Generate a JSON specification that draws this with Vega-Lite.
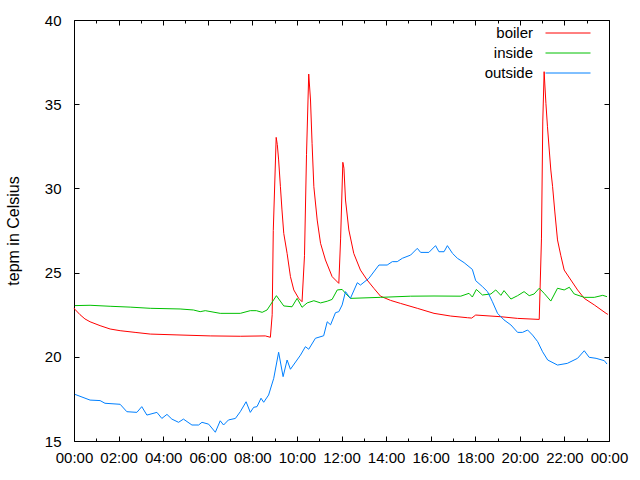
{
  "$schema": "https://vega.github.io/schema/vega-lite/v6.json",
  "width": 535,
  "height": 421,
  "autosize": "none",
  "padding": {"left": 74, "top": 20, "right": 31, "bottom": 39},
  "config": {
    "font": "Liberation Sans",
    "view": {"stroke": "black", "strokeWidth": 1},
    "axis": {"grid": false, "domain": false, "tickColor": "black", "tickWidth": 1, "labelColor": "black", "labelFontSize": 15, "labelFont": "Liberation Sans", "titleFont": "Liberation Sans", "titleFontSize": 16, "titleFontWeight": "normal", "titleColor": "black", "labelFlush": false, "labelOverlap": false}
  },
  "datasets": {
    "temps": [
      {"t": 0.00, "series": "boiler", "v": 22.9},
      {"t": 0.04, "series": "boiler", "v": 22.82},
      {"t": 0.27, "series": "boiler", "v": 22.5},
      {"t": 0.49, "series": "boiler", "v": 22.25},
      {"t": 0.72, "series": "boiler", "v": 22.08},
      {"t": 1.17, "series": "boiler", "v": 21.85},
      {"t": 1.62, "series": "boiler", "v": 21.65},
      {"t": 2.07, "series": "boiler", "v": 21.55},
      {"t": 2.74, "series": "boiler", "v": 21.45},
      {"t": 3.42, "series": "boiler", "v": 21.35},
      {"t": 4.62, "series": "boiler", "v": 21.3},
      {"t": 6.11, "series": "boiler", "v": 21.24},
      {"t": 7.46, "series": "boiler", "v": 21.22},
      {"t": 8.58, "series": "boiler", "v": 21.24},
      {"t": 8.81, "series": "boiler", "v": 21.16},
      {"t": 8.89, "series": "boiler", "v": 22.5},
      {"t": 8.94, "series": "boiler", "v": 27.5},
      {"t": 9.07, "series": "boiler", "v": 33.03},
      {"t": 9.12, "series": "boiler", "v": 32.6},
      {"t": 9.18, "series": "boiler", "v": 31.69},
      {"t": 9.26, "series": "boiler", "v": 30.1},
      {"t": 9.33, "series": "boiler", "v": 28.72},
      {"t": 9.41, "series": "boiler", "v": 27.33},
      {"t": 9.56, "series": "boiler", "v": 26.14},
      {"t": 9.71, "series": "boiler", "v": 24.76},
      {"t": 9.86, "series": "boiler", "v": 23.97},
      {"t": 10.08, "series": "boiler", "v": 23.47},
      {"t": 10.23, "series": "boiler", "v": 23.27},
      {"t": 10.34, "series": "boiler", "v": 26},
      {"t": 10.43, "series": "boiler", "v": 32},
      {"t": 10.53, "series": "boiler", "v": 36.79},
      {"t": 10.61, "series": "boiler", "v": 35.25},
      {"t": 10.68, "series": "boiler", "v": 32.68},
      {"t": 10.76, "series": "boiler", "v": 30.1},
      {"t": 10.91, "series": "boiler", "v": 28.12},
      {"t": 11.06, "series": "boiler", "v": 26.74},
      {"t": 11.28, "series": "boiler", "v": 25.75},
      {"t": 11.58, "series": "boiler", "v": 24.76},
      {"t": 11.88, "series": "boiler", "v": 24.36},
      {"t": 11.96, "series": "boiler", "v": 27},
      {"t": 12.06, "series": "boiler", "v": 31.55},
      {"t": 12.11, "series": "boiler", "v": 31.2},
      {"t": 12.18, "series": "boiler", "v": 29.31},
      {"t": 12.33, "series": "boiler", "v": 27.53},
      {"t": 12.55, "series": "boiler", "v": 26.14},
      {"t": 12.85, "series": "boiler", "v": 25.15},
      {"t": 13.15, "series": "boiler", "v": 24.56},
      {"t": 13.45, "series": "boiler", "v": 24.07},
      {"t": 13.75, "series": "boiler", "v": 23.6},
      {"t": 14.2, "series": "boiler", "v": 23.35},
      {"t": 14.65, "series": "boiler", "v": 23.17},
      {"t": 15.4, "series": "boiler", "v": 22.88},
      {"t": 16.15, "series": "boiler", "v": 22.58},
      {"t": 16.9, "series": "boiler", "v": 22.42},
      {"t": 17.65, "series": "boiler", "v": 22.32},
      {"t": 17.84, "series": "boiler", "v": 22.3},
      {"t": 18.02, "series": "boiler", "v": 22.48},
      {"t": 19.15, "series": "boiler", "v": 22.38},
      {"t": 19.9, "series": "boiler", "v": 22.28},
      {"t": 20.87, "series": "boiler", "v": 22.22},
      {"t": 20.97, "series": "boiler", "v": 27},
      {"t": 21.03, "series": "boiler", "v": 34},
      {"t": 21.09, "series": "boiler", "v": 36.93},
      {"t": 21.12, "series": "boiler", "v": 36.2},
      {"t": 21.17, "series": "boiler", "v": 35.05},
      {"t": 21.24, "series": "boiler", "v": 33.66},
      {"t": 21.32, "series": "boiler", "v": 32.28},
      {"t": 21.39, "series": "boiler", "v": 31.09},
      {"t": 21.47, "series": "boiler", "v": 30.1},
      {"t": 21.57, "series": "boiler", "v": 28.6},
      {"t": 21.69, "series": "boiler", "v": 26.94},
      {"t": 21.84, "series": "boiler", "v": 26},
      {"t": 21.99, "series": "boiler", "v": 25.15},
      {"t": 22.29, "series": "boiler", "v": 24.56},
      {"t": 22.59, "series": "boiler", "v": 23.97},
      {"t": 22.89, "series": "boiler", "v": 23.47},
      {"t": 23.34, "series": "boiler", "v": 23.08},
      {"t": 23.87, "series": "boiler", "v": 22.58},
      {"t": 23.95, "series": "boiler", "v": 22.52},

      {"t": 0.04, "series": "inside", "v": 23.04},
      {"t": 0.72, "series": "inside", "v": 23.06},
      {"t": 1.62, "series": "inside", "v": 23.0},
      {"t": 2.52, "series": "inside", "v": 22.95},
      {"t": 3.42, "series": "inside", "v": 22.88},
      {"t": 4.76, "series": "inside", "v": 22.84},
      {"t": 5.36, "series": "inside", "v": 22.78},
      {"t": 5.66, "series": "inside", "v": 22.68},
      {"t": 5.89, "series": "inside", "v": 22.74},
      {"t": 6.56, "series": "inside", "v": 22.58},
      {"t": 7.46, "series": "inside", "v": 22.58},
      {"t": 7.91, "series": "inside", "v": 22.74},
      {"t": 8.18, "series": "inside", "v": 22.74},
      {"t": 8.44, "series": "inside", "v": 22.64},
      {"t": 8.66, "series": "inside", "v": 22.78},
      {"t": 8.81, "series": "inside", "v": 23.08},
      {"t": 9.08, "series": "inside", "v": 23.63},
      {"t": 9.41, "series": "inside", "v": 23.02},
      {"t": 9.78, "series": "inside", "v": 22.97},
      {"t": 10.01, "series": "inside", "v": 23.47},
      {"t": 10.23, "series": "inside", "v": 22.94},
      {"t": 10.46, "series": "inside", "v": 23.2},
      {"t": 10.76, "series": "inside", "v": 23.33},
      {"t": 11.06, "series": "inside", "v": 23.2},
      {"t": 11.36, "series": "inside", "v": 23.3},
      {"t": 11.58, "series": "inside", "v": 23.41},
      {"t": 11.81, "series": "inside", "v": 23.97},
      {"t": 12.03, "series": "inside", "v": 24.0},
      {"t": 12.18, "series": "inside", "v": 23.77},
      {"t": 12.4, "series": "inside", "v": 23.47},
      {"t": 13.75, "series": "inside", "v": 23.53},
      {"t": 15.1, "series": "inside", "v": 23.6},
      {"t": 16.15, "series": "inside", "v": 23.61},
      {"t": 17.35, "series": "inside", "v": 23.6},
      {"t": 17.72, "series": "inside", "v": 23.77},
      {"t": 17.87, "series": "inside", "v": 23.55},
      {"t": 18.05, "series": "inside", "v": 24.0},
      {"t": 18.32, "series": "inside", "v": 23.67},
      {"t": 18.7, "series": "inside", "v": 23.73},
      {"t": 18.92, "series": "inside", "v": 23.97},
      {"t": 19.15, "series": "inside", "v": 23.65},
      {"t": 19.29, "series": "inside", "v": 23.93},
      {"t": 19.6, "series": "inside", "v": 23.43},
      {"t": 19.9, "series": "inside", "v": 23.63},
      {"t": 20.19, "series": "inside", "v": 23.87},
      {"t": 20.42, "series": "inside", "v": 23.63},
      {"t": 20.64, "series": "inside", "v": 23.73},
      {"t": 20.87, "series": "inside", "v": 24.07},
      {"t": 21.09, "series": "inside", "v": 23.77},
      {"t": 21.39, "series": "inside", "v": 23.31},
      {"t": 21.69, "series": "inside", "v": 24.07},
      {"t": 21.99, "series": "inside", "v": 23.97},
      {"t": 22.22, "series": "inside", "v": 24.13},
      {"t": 22.44, "series": "inside", "v": 23.73},
      {"t": 22.89, "series": "inside", "v": 23.53},
      {"t": 23.34, "series": "inside", "v": 23.53},
      {"t": 23.72, "series": "inside", "v": 23.65},
      {"t": 23.91, "series": "inside", "v": 23.57},

      {"t": 0.04, "series": "outside", "v": 17.77},
      {"t": 0.72, "series": "outside", "v": 17.43},
      {"t": 1.17, "series": "outside", "v": 17.4},
      {"t": 1.39, "series": "outside", "v": 17.24},
      {"t": 2.07, "series": "outside", "v": 17.18},
      {"t": 2.37, "series": "outside", "v": 16.74},
      {"t": 2.82, "series": "outside", "v": 16.7},
      {"t": 3.04, "series": "outside", "v": 17.04},
      {"t": 3.27, "series": "outside", "v": 16.54},
      {"t": 3.72, "series": "outside", "v": 16.7},
      {"t": 3.94, "series": "outside", "v": 16.34},
      {"t": 4.17, "series": "outside", "v": 16.58},
      {"t": 4.39, "series": "outside", "v": 16.3},
      {"t": 4.69, "series": "outside", "v": 16.11},
      {"t": 4.91, "series": "outside", "v": 16.3},
      {"t": 5.29, "series": "outside", "v": 15.95},
      {"t": 5.59, "series": "outside", "v": 15.95},
      {"t": 5.74, "series": "outside", "v": 16.11},
      {"t": 6.04, "series": "outside", "v": 16.0},
      {"t": 6.34, "series": "outside", "v": 15.52},
      {"t": 6.56, "series": "outside", "v": 16.2},
      {"t": 6.71, "series": "outside", "v": 15.95},
      {"t": 6.93, "series": "outside", "v": 16.25},
      {"t": 7.24, "series": "outside", "v": 16.34},
      {"t": 7.46, "series": "outside", "v": 16.74},
      {"t": 7.72, "series": "outside", "v": 17.33},
      {"t": 7.91, "series": "outside", "v": 16.7},
      {"t": 8.06, "series": "outside", "v": 17.0},
      {"t": 8.21, "series": "outside", "v": 17.04},
      {"t": 8.39, "series": "outside", "v": 17.54},
      {"t": 8.51, "series": "outside", "v": 17.3},
      {"t": 8.73, "series": "outside", "v": 17.73},
      {"t": 8.96, "series": "outside", "v": 18.72},
      {"t": 9.18, "series": "outside", "v": 20.27},
      {"t": 9.38, "series": "outside", "v": 18.82},
      {"t": 9.56, "series": "outside", "v": 19.81},
      {"t": 9.71, "series": "outside", "v": 19.26},
      {"t": 10.16, "series": "outside", "v": 20.1},
      {"t": 10.38, "series": "outside", "v": 20.6},
      {"t": 10.53, "series": "outside", "v": 20.45},
      {"t": 10.83, "series": "outside", "v": 21.1},
      {"t": 11.2, "series": "outside", "v": 21.25},
      {"t": 11.36, "series": "outside", "v": 22.08},
      {"t": 11.51, "series": "outside", "v": 21.9},
      {"t": 11.73, "series": "outside", "v": 22.62},
      {"t": 11.88, "series": "outside", "v": 22.68},
      {"t": 12.03, "series": "outside", "v": 23.08},
      {"t": 12.18, "series": "outside", "v": 23.87},
      {"t": 12.4, "series": "outside", "v": 23.47},
      {"t": 12.71, "series": "outside", "v": 24.4},
      {"t": 12.85, "series": "outside", "v": 24.26},
      {"t": 13.23, "series": "outside", "v": 24.66},
      {"t": 13.68, "series": "outside", "v": 25.45},
      {"t": 14.05, "series": "outside", "v": 25.45},
      {"t": 14.28, "series": "outside", "v": 25.65},
      {"t": 14.5, "series": "outside", "v": 25.65},
      {"t": 14.73, "series": "outside", "v": 25.85},
      {"t": 15.1, "series": "outside", "v": 26.04},
      {"t": 15.4, "series": "outside", "v": 26.44},
      {"t": 15.55, "series": "outside", "v": 26.2},
      {"t": 15.92, "series": "outside", "v": 26.2},
      {"t": 16.22, "series": "outside", "v": 26.6},
      {"t": 16.37, "series": "outside", "v": 26.24},
      {"t": 16.6, "series": "outside", "v": 26.24},
      {"t": 16.75, "series": "outside", "v": 26.6},
      {"t": 16.98, "series": "outside", "v": 26.14},
      {"t": 17.2, "series": "outside", "v": 25.85},
      {"t": 17.5, "series": "outside", "v": 25.59},
      {"t": 17.87, "series": "outside", "v": 25.19},
      {"t": 18.02, "series": "outside", "v": 24.52},
      {"t": 18.32, "series": "outside", "v": 24.17},
      {"t": 18.55, "series": "outside", "v": 23.87},
      {"t": 18.77, "series": "outside", "v": 23.27},
      {"t": 19.0, "series": "outside", "v": 22.58},
      {"t": 19.29, "series": "outside", "v": 22.19},
      {"t": 19.6, "series": "outside", "v": 21.89},
      {"t": 19.9, "series": "outside", "v": 21.45},
      {"t": 20.12, "series": "outside", "v": 21.45},
      {"t": 20.35, "series": "outside", "v": 21.59},
      {"t": 20.57, "series": "outside", "v": 21.29},
      {"t": 20.8, "series": "outside", "v": 20.9},
      {"t": 21.02, "series": "outside", "v": 20.3},
      {"t": 21.25, "series": "outside", "v": 19.81},
      {"t": 21.69, "series": "outside", "v": 19.51},
      {"t": 22.13, "series": "outside", "v": 19.61},
      {"t": 22.59, "series": "outside", "v": 19.91},
      {"t": 22.89, "series": "outside", "v": 20.36},
      {"t": 23.11, "series": "outside", "v": 19.97},
      {"t": 23.42, "series": "outside", "v": 19.91},
      {"t": 23.79, "series": "outside", "v": 19.77},
      {"t": 23.91, "series": "outside", "v": 19.57}
    ]
  },
  "data": {"name": "temps"},
  "layer": [
    {
      "mark": {"type": "line", "strokeWidth": 1},
      "encoding": {
        "x": {
          "field": "t", "type": "quantitative",
          "scale": {"domain": [0, 24], "nice": false, "zero": false},
          "axis": {
            "orient": "bottom",
            "title": null,
            "values": [0,1,2,3,4,5,6,7,8,9,10,11,12,13,14,15,16,17,18,19,20,21,22,23,24],
            "labelExpr": "datum.value % 2 == 0 ? ((datum.value % 24) < 10 ? '0' : '') + (datum.value % 24) + ':00' : ''",
            "tickSize": {"condition": {"test": "datum.value % 2 == 0", "value": -5}, "value": -3},
            "labelPadding": 14
          }
        },
        "y": {
          "field": "v", "type": "quantitative",
          "scale": {"domain": [15, 40], "nice": false, "zero": false},
          "axis": {
            "orient": "left",
            "title": "tepm in Celsius",
            "values": [15, 20, 25, 30, 35, 40],
            "tickSize": -5,
            "labelPadding": 18,
            "titlePadding": 23
          }
        },
        "color": {
          "field": "series", "type": "nominal",
          "scale": {"domain": ["boiler", "inside", "outside"], "range": ["#ff0000", "#00c000", "#0080ff"]},
          "legend": {
            "title": null,
            "orient": "none",
            "legendX": 471,
            "legendY": 5,
            "symbolType": "stroke",
            "symbolSize": 2025,
            "symbolStrokeWidth": 1,
            "labelFontSize": 15,
            "labelColor": "black",
            "labelAlign": "right",
            "labelOffset": -58,
            "rowPadding": 4,
            "padding": 0,
            "encode": {
              "symbols": {"update": {"y": {"value": 8}}},
              "labels": {"update": {"y": {"value": 8}}}
            }
          }
        }
      }
    },
    {
      "mark": {"type": "point", "opacity": 0},
      "encoding": {
        "x": {
          "field": "t", "type": "quantitative",
          "axis": {
            "orient": "top",
            "title": null,
            "labels": false,
            "values": [0,1,2,3,4,5,6,7,8,9,10,11,12,13,14,15,16,17,18,19,20,21,22,23,24],
            "tickSize": {"condition": {"test": "datum.value % 2 == 0", "value": -5}, "value": -3}
          }
        },
        "y": {
          "field": "v", "type": "quantitative",
          "axis": {
            "orient": "right",
            "title": null,
            "labels": false,
            "values": [15, 20, 25, 30, 35, 40],
            "tickSize": -5
          }
        }
      }
    }
  ],
  "resolve": {"axis": {"x": "independent", "y": "independent"}}
}
